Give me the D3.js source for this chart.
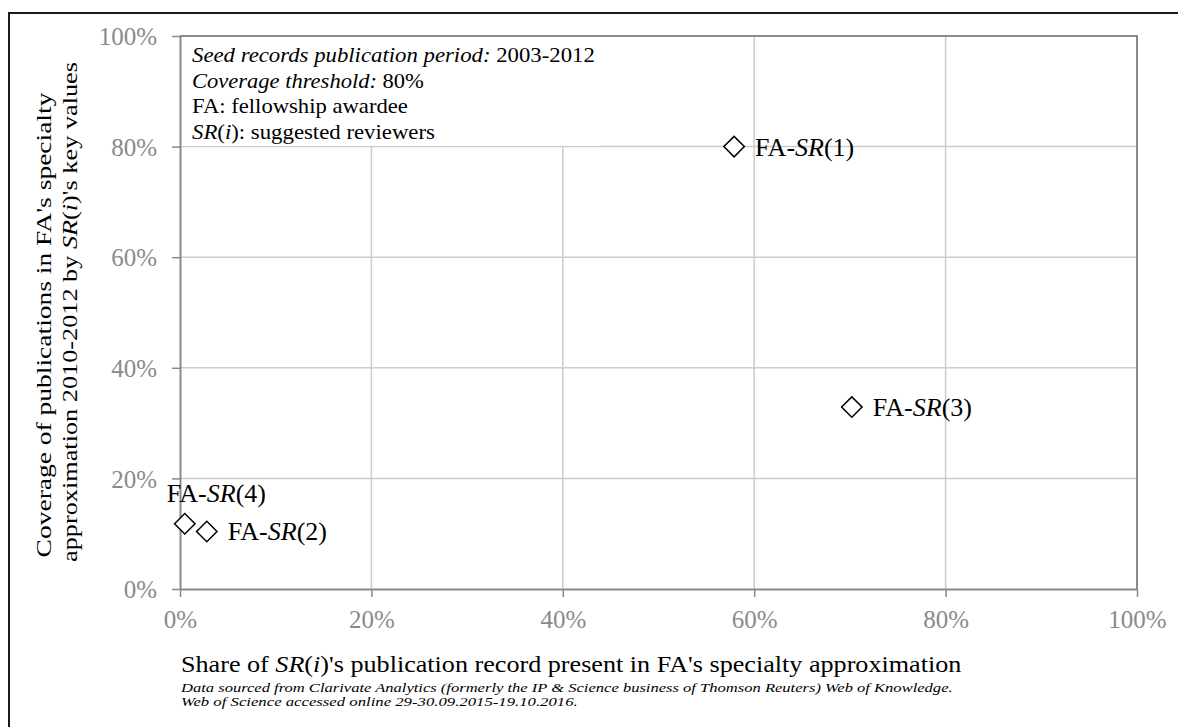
<!DOCTYPE html>
<html>
<head>
<meta charset="utf-8">
<script src="https://cdn.jsdelivr.net/npm/d3@7"></script>
<style>
  body { margin: 0; background: #fff; }
  svg { display: block; font-family: "Liberation Serif", "DejaVu Serif", serif; }
</style>
</head>
<body>
<div id="chart"></div>
<script>
// data (shares, 0..1)
const pairLabels = ["FA-SR(1)", "FA-SR(2)", "FA-SR(3)", "FA-SR(4)"];
const pairIds = ["1", "2", "3", "4"];
const shareValues = [0.579, 0.028, 0.702, 0.005];
const coverageValues = [0.80, 0.104, 0.329, 0.118];
const xTicks = [0, 0.2, 0.4, 0.6, 0.8, 1.0];
const yTicks = [0, 0.2, 0.4, 0.6, 0.8, 1.0];

const data = pairIds.map((id, i) => ({
  id: id,
  label: pairLabels[i],
  x: shareValues[i],
  y: coverageValues[i]
}));

const W = 1178, H = 727;
const margin = { top: 36, right: 41, bottom: 138, left: 180 };
const width = W - margin.left - margin.right;
const height = H - margin.top - margin.bottom;

const x = d3.scaleLinear().domain([0, 1]).range([0, width]);
const y = d3.scaleLinear().domain([0, 1]).range([height, 0]);

const root = d3.select("#chart").append("svg")
  .attr("width", W)
  .attr("height", H);

// outer frame (only top/left visible in the picture)
root.append("rect")
  .attr("x", 9).attr("y", 13)
  .attr("width", W + 10).attr("height", H + 10)
  .attr("fill", "none")
  .attr("stroke", "#1a1a1a")
  .attr("stroke-width", 2);

const svg = root.append("g")
  .attr("transform", `translate(${margin.left},${margin.top})`);

const axisGrey = "#8a8a8a";
const gridGrey = "#cccccc";

// the source figure's type is wider than Liberation Serif, stretch a text to a length
function stretch(text, target) {
  const len = text.node().getComputedTextLength();
  text.attr("transform", `scale(${target / len},1)`);
}

// a text block in its own group, so it can be stretched around its anchor
function textAt(parent, tx, ty, rot) {
  const g = parent.append("g")
    .attr("transform", `translate(${tx},${ty})` + (rot ? ` rotate(${rot})` : ""));
  return g.append("text").attr("x", 0).attr("y", 0).attr("fill", "#000");
}

// grid lines
svg.selectAll(".xgrid")
  .data(xTicks.slice(1, -1))
  .join("line")
  .attr("class", "xgrid")
  .attr("x1", d => x(d)).attr("x2", d => x(d))
  .attr("y1", 0).attr("y2", height)
  .attr("stroke", gridGrey).attr("stroke-width", 1.5);

svg.selectAll(".ygrid")
  .data(yTicks.slice(1, -1))
  .join("line")
  .attr("class", "ygrid")
  .attr("x1", 0).attr("x2", width)
  .attr("y1", d => y(d)).attr("y2", d => y(d))
  .attr("stroke", gridGrey).attr("stroke-width", 1.5);

// plot frame top and right
svg.append("path")
  .attr("d", `M0,${y(1)}H${x(1)}V${y(0)}`)
  .attr("fill", "none")
  .attr("stroke", axisGrey)
  .attr("stroke-width", 2);

// annotation box (white, covers grid)
svg.append("rect")
  .attr("x", 1).attr("y", 1)
  .attr("width", 419).attr("height", 109)
  .attr("fill", "#fff");

const noteLines = [
  [["Seed records publication period:", true], [" 2003-2012", false]],
  [["Coverage threshold:", true], [" 80%", false]],
  [["FA: fellowship awardee", false]],
  [["SR", true], ["(", false], ["i", true], ["): suggested reviewers", false]]
];
const noteLengths = [403, 232, 216, 243];
noteLines.forEach((parts, i) => {
  const t = textAt(svg, 12, 26 + i * 25.5).style("font-size", "21px");
  parts.forEach(p => t.append("tspan").style("font-style", p[1] ? "italic" : "normal").text(p[0]));
  stretch(t, noteLengths[i]);
});

// axes
const xAxis = svg.append("g")
  .attr("transform", `translate(0,${height})`)
  .call(d3.axisBottom(x)
    .tickValues(xTicks)
    .tickFormat(d3.format(".0%"))
    .tickSize(8)
    .tickPadding(13)
    .tickSizeOuter(0));

const yAxis = svg.append("g")
  .call(d3.axisLeft(y)
    .tickValues(yTicks)
    .tickFormat(d3.format(".0%"))
    .tickSize(8)
    .tickPadding(15)
    .tickSizeOuter(0));

[xAxis, yAxis].forEach(g => {
  g.select(".domain").attr("stroke", axisGrey).attr("stroke-width", 2);
  g.selectAll(".tick line").attr("stroke", axisGrey).attr("stroke-width", 1.5);
  g.selectAll(".tick text")
    .attr("fill", axisGrey)
    .style("font-family", "'Liberation Serif', serif")
    .style("font-size", "25px");
});
yAxis.selectAll(".tick text").attr("dy", "0.35em");

// points
const diamond = d3.symbol().type(d3.symbolSquare).size(210);
svg.selectAll(".pt")
  .data(data)
  .join("path")
  .attr("class", "pt")
  .attr("d", diamond)
  .attr("transform", d => `translate(${x(d.x)},${y(d.y)}) rotate(45)`)
  .attr("fill", "#fff")
  .attr("stroke", "#000")
  .attr("stroke-width", 1.5);

// point labels: FA-<i>SR</i>(n)
const labels = svg.selectAll(".lbl")
  .data(data)
  .join("text")
  .attr("class", "lbl")
  .attr("x", d => d.id === "4" ? x(d.x) - 18 : x(d.x) + 21)
  .attr("y", d => d.id === "4" ? y(d.y) - 22 : y(d.y) + 9)
  .style("font-size", "26px")
  .attr("fill", "#000");
labels.append("tspan").text("FA-");
labels.append("tspan").style("font-style", "italic").text("SR");
labels.append("tspan").text(d => `(${d.id})`);

// y axis title (two lines)
const yt1 = textAt(root, 51, 325, -90)
  .attr("text-anchor", "middle")
  .style("font-size", "22px")
  .text("Coverage of publications in FA's specialty");
stretch(yt1, 465);

const yt2 = textAt(root, 77, 312, -90)
  .attr("text-anchor", "middle")
  .style("font-size", "22px");
yt2.append("tspan").text("approximation 2010-2012 by ");
yt2.append("tspan").style("font-style", "italic").text("SR");
yt2.append("tspan").text("(");
yt2.append("tspan").style("font-style", "italic").text("i");
yt2.append("tspan").text(")'s key values");
stretch(yt2, 500);

// x axis title
const xTitle = textAt(root, 181, 672).style("font-size", "24px");
xTitle.append("tspan").text("Share of ");
xTitle.append("tspan").style("font-style", "italic").text("SR");
xTitle.append("tspan").text("(");
xTitle.append("tspan").style("font-style", "italic").text("i");
xTitle.append("tspan").text(")'s publication record present in FA's specialty approximation");
stretch(xTitle, 781);

// source note
const src1 = textAt(root, 181, 692)
  .style("font-size", "13.5px")
  .style("font-style", "italic")
  .text("Data sourced from Clarivate Analytics (formerly the IP & Science business of Thomson Reuters) Web of Knowledge.");
stretch(src1, 772);
const src2 = textAt(root, 181, 706)
  .style("font-size", "13.5px")
  .style("font-style", "italic")
  .text("Web of Science accessed online 29-30.09.2015-19.10.2016.");
stretch(src2, 397);
</script>
</body>
</html>
